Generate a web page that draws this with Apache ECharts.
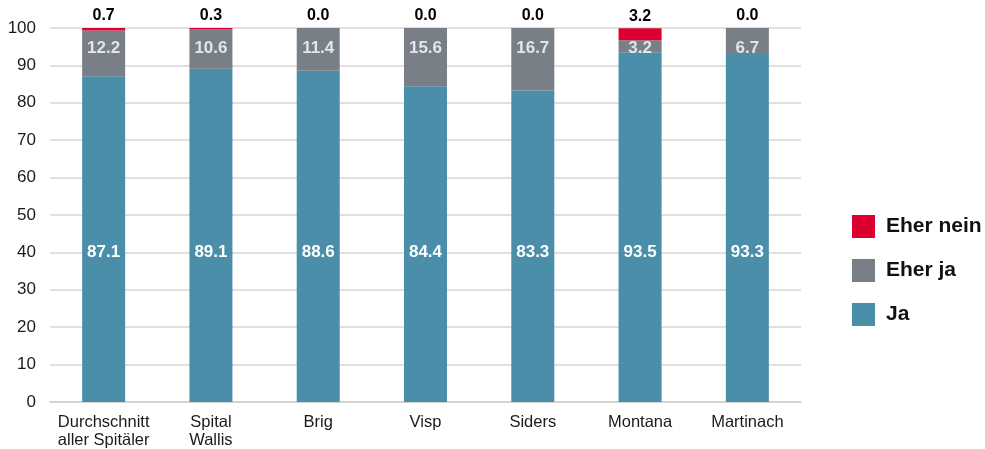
<!DOCTYPE html>
<html>
<head>
<meta charset="utf-8">
<script src="https://cdn.jsdelivr.net/npm/echarts@6/dist/echarts.min.js"></script>
<style>
  html, body { margin: 0; padding: 0; background: #fff; }
  #chart { width: 985px; height: 449px; }
</style>
</head>
<body>
<div id="chart"></div>
<script>
// Zufriedenheit nach Spital, Anteile in Prozent
const categories = ['Durchschnitt\naller Spitäler', 'Spital\nWallis', 'Brig', 'Visp', 'Siders', 'Montana', 'Martinach'];
const ja        = [87.1, 89.1, 88.6, 84.4, 83.3, 93.5, 93.3];
const eherJa    = [12.2, 10.6, 11.4, 15.6, 16.7, 3.2, 6.7];
const eherNein  = [0.7, 0.3, 0.0, 0.0, 0.0, 3.2, 0.0];
const yTicks    = [0, 10, 20, 30, 40, 50, 60, 70, 80, 90, 100];

const FONT = '"Liberation Sans", Arial, sans-serif';
const COL_JA = '#4a8eaa';
const COL_EHERJA = '#787f86';
const COL_NEIN = '#dc0030';

const chart = echarts.init(document.getElementById('chart'), null, { renderer: 'canvas' });

chart.setOption({
  animation: false,
  textStyle: { fontFamily: FONT },
  grid: { left: 50, right: 184, top: 28, bottom: 47, containLabel: false, outerBoundsMode: 'none' },
  legend: {
    data: ['Eher nein', 'Eher ja', 'Ja'],
    orient: 'vertical',
    left: 847,
    top: 210,
    itemWidth: 23,
    itemHeight: 23,
    itemGap: 21,
    icon: 'rect',
    selectedMode: false,
    textStyle: { fontFamily: FONT, fontSize: 21, fontWeight: 'bold', color: '#111', padding: [0, 0, 0, 6] }
  },
  xAxis: {
    type: 'category',
    data: categories,
    axisTick: { show: false },
    axisLine: { lineStyle: { color: '#d0d0d0', width: 1.5 } },
    axisLabel: { color: '#1a1a1a', fontSize: 16.5, margin: 11, lineHeight: 18, interval: 0, fontFamily: FONT }
  },
  yAxis: {
    type: 'value',
    min: yTicks[0],
    max: yTicks[yTicks.length - 1],
    interval: 10,
    axisLine: { show: false },
    axisTick: { show: false },
    splitLine: { lineStyle: { color: '#d6d6d6', width: 1.5 } },
    axisLabel: { color: '#1a1a1a', fontSize: 17, margin: 14, fontFamily: FONT }
  },
  series: [
    {
      name: 'Ja',
      type: 'bar',
      stack: 'total',
      barWidth: 43,
      data: ja,
      itemStyle: { color: COL_JA },
      label: {
        show: true,
        position: 'insideBottom',
        distance: 141,
        color: '#fff',
        fontWeight: 'bold',
        fontSize: 17,
        fontFamily: FONT,
        formatter: p => p.value.toFixed(1)
      }
    },
    {
      name: 'Eher ja',
      type: 'bar',
      stack: 'total',
      data: eherJa,
      itemStyle: { color: COL_EHERJA }
    },
    {
      name: 'Eher nein',
      type: 'bar',
      stack: 'total',
      data: eherNein,
      itemStyle: { color: COL_NEIN },
      label: {
        show: true,
        position: 'top',
        distance: 4,
        color: '#000',
        fontWeight: 'bold',
        fontSize: 16,
        fontFamily: FONT,
        formatter: p => p.value.toFixed(1)
      }
    },
    {
      // Wertebeschriftung für "Eher ja" auf einheitlicher Höhe
      name: 'EherJaLabel',
      type: 'scatter',
      silent: true,
      symbolSize: 0,
      z: 5,
      data: eherJa.map((v, i) => [i, 94.6]),
      label: {
        show: true,
        position: 'inside',
        color: '#fff',
        fontWeight: 'bold',
        fontSize: 17,
        fontFamily: FONT,
        formatter: p => eherJa[p.dataIndex].toFixed(1)
      }
    }
  ]
});
</script>
</body>
</html>
